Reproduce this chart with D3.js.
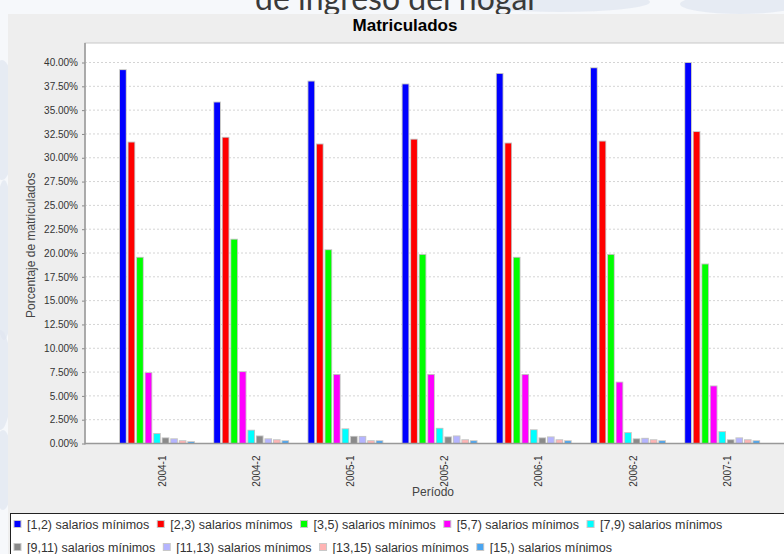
<!DOCTYPE html>
<html><head><meta charset="utf-8">
<script src="https://cdn.jsdelivr.net/npm/d3@7"></script>
<style>html,body{margin:0;padding:0;background:#fff;}svg{display:block;}</style>
</head><body>
<script>
const periods = ["2004-1","2004-2","2005-1","2005-2","2006-1","2006-2","2007-1"];
const seriesNames = ["[1,2) salarios mínimos","[2,3) salarios mínimos","[3,5) salarios mínimos","[5,7) salarios mínimos","[7,9) salarios mínimos","[9,11) salarios mínimos","[11,13) salarios mínimos","[13,15) salarios mínimos","[15,) salarios mínimos"];
const s12   = [39.2, 35.8, 38.0, 37.7, 38.8, 39.4, 39.95];
const s23   = [31.6, 32.1, 31.4, 31.9, 31.5, 31.7, 32.7];
const s35   = [19.5, 21.4, 20.3, 19.8, 19.5, 19.8, 18.8];
const s57   = [7.4, 7.5, 7.2, 7.2, 7.2, 6.4, 6.0];
const s79   = [1.0, 1.35, 1.5, 1.55, 1.4, 1.1, 1.2];
const s911  = [0.55, 0.75, 0.7, 0.65, 0.55, 0.45, 0.35];
const s1113 = [0.45, 0.45, 0.7, 0.75, 0.65, 0.5, 0.55];
const s1315 = [0.25, 0.35, 0.25, 0.35, 0.35, 0.35, 0.35];
const s15   = [0.15, 0.25, 0.25, 0.25, 0.25, 0.25, 0.25];
const seriesValues = [s12, s23, s35, s57, s79, s911, s1113, s1315, s15];
const colors = ["#0000ff","#ff0000","#00ff00","#ff00ff","#00ffff","#8a8a8a","#b4b4ff","#ffb4b4","#4aa5f0"];
const yTicks = [0,2.5,5,7.5,10,12.5,15,17.5,20,22.5,25,27.5,30,32.5,35,37.5,40];

const W = 784, H = 554;
const svg = d3.select("body").append("svg").attr("width", W).attr("height", H);
const F = "'Liberation Sans', Arial, sans-serif";

// page background
const bg = svg.append("g");
bg.append("rect").attr("width", W).attr("height", H).attr("fill", "#f6f8fb");
[[2,120,14,60],[4,260,10,80],[0,380,12,50],[3,470,10,40],[560,2,90,10],[740,4,60,10]].forEach(e=>{
  bg.append("ellipse").attr("cx",e[0]).attr("cy",e[1]).attr("rx",e[2]).attr("ry",e[3]).attr("fill","#dfe6ef").attr("opacity",0.7);
});
svg.append("text").attr("x", 397).attr("y", 10).attr("text-anchor","middle")
  .attr("font-family","'Lato','DejaVu Sans',sans-serif").attr("font-size", 32).attr("fill","#3a3a3a")
  .text("de ingreso del hogar");

// chart panel
svg.append("rect").attr("x", 8).attr("y", 14).attr("width", 800).attr("height", 560).attr("fill", "#eeeeee");

svg.append("text").attr("x", 405).attr("y", 31).attr("text-anchor","middle")
  .attr("font-family", F).attr("font-weight","bold").attr("font-size", 17).attr("fill","#000")
  .text("Matriculados");

const pL = 85, pT = 43, pR = 806, pB = 443.5;
svg.append("rect").attr("x", pL).attr("y", pT).attr("width", pR-pL).attr("height", pB-pT)
  .attr("fill","#fff").attr("stroke","#c8c8c8").attr("stroke-width",1);

const y = d3.scaleLinear().domain([0, 40]).range([pB, 62.5]);
const x0 = d3.scaleBand().domain(periods).range([120, 120 + 94.2*(7-0.2144)]).paddingInner(0.2144).paddingOuter(0);
const x1 = d3.scaleBand().domain(d3.range(9)).range([0, x0.bandwidth()]).paddingInner(0.32).paddingOuter(0);

// gridlines
svg.append("g").selectAll("line").data(yTicks.filter(t=>t>0)).join("line")
  .attr("x1", pL).attr("x2", pR).attr("y1", d=>y(d)).attr("y2", d=>y(d))
  .attr("stroke","#d4d4d4").attr("stroke-width",1).attr("stroke-dasharray","2,2");

// bars
const gBars = svg.append("g");
seriesValues.forEach((vals, si) => {
  vals.forEach((v, ci) => {
    const bx = x0(periods[ci]) + x1(si), bw = x1.bandwidth();
    gBars.append("rect").attr("x", bx-0.9).attr("y", y(v)-0.9).attr("width", bw+1.8).attr("height", pB - y(v)+0.9)
      .attr("fill","#c4c4c4");
    gBars.append("rect").attr("x", bx).attr("y", y(v)).attr("width", bw).attr("height", pB - y(v))
      .attr("fill", colors[si]);
  });
});

// axes
const yAxis = d3.axisLeft(y).tickValues(yTicks).tickSize(3).tickPadding(4).tickFormat(d=>d3.format(".2f")(d)+"%");
const gy = svg.append("g").attr("transform", `translate(${pL},0)`).call(yAxis);
gy.select(".domain").remove();
gy.selectAll(".tick line").attr("stroke","#888");
gy.selectAll("text").attr("font-family", F).attr("font-size", 10).attr("fill","#333");
svg.append("line").attr("x1", pL).attr("x2", pL).attr("y1", pT).attr("y2", pB+1).attr("stroke","#999").attr("stroke-width",1.5);
svg.append("line").attr("x1", pL).attr("x2", pR).attr("y1", pB).attr("y2", pB).attr("stroke","#999").attr("stroke-width",1.5);

// x labels
svg.append("g").selectAll("text").data(periods).join("text")
  .attr("transform", d => `translate(${x0(d) + x0.bandwidth()/2 + 5},${pB+12}) rotate(-90)`)
  .attr("text-anchor","end").attr("dy","0.35em")
  .attr("font-family", F).attr("font-size", 10).attr("fill","#333").text(d=>d);

svg.append("text").attr("transform", `translate(35,${(pT+pB)/2+2}) rotate(-90)`).attr("text-anchor","middle")
  .attr("font-family", F).attr("font-size", 12).attr("fill","#444").text("Porcentaje de matriculados");
svg.append("text").attr("x", 433).attr("y", 496).attr("text-anchor","middle")
  .attr("font-family", F).attr("font-size", 12).attr("fill","#444").text("Período");

// legend
svg.append("rect").attr("x", 10.5).attr("y", 513.5).attr("width", 800).attr("height", 60)
  .attr("fill","#fff").attr("stroke","#222").attr("stroke-width",1);
const rows = [[0,1,2,3,4],[5,6,7,8]];
rows.forEach((row, ri) => {
  let cx = 14;
  const cy = ri === 0 ? 524.5 : 547.5;
  row.forEach(si => {
    svg.append("rect").attr("x", cx-0.5).attr("y", cy-4.5).attr("width", 8).attr("height", 8).attr("fill","#c8c8c8");
    svg.append("rect").attr("x", cx+0.5).attr("y", cy-3.5).attr("width", 6).attr("height", 6).attr("fill", colors[si]);
    const t = svg.append("text").attr("x", cx+13).attr("y", cy).attr("dy","0.35em")
      .attr("font-family", F).attr("font-size", 12.5).attr("fill","#333").text(seriesNames[si]);
    cx += 13 + t.node().getComputedTextLength() + 8;
  });
});
</script>
</body></html>
